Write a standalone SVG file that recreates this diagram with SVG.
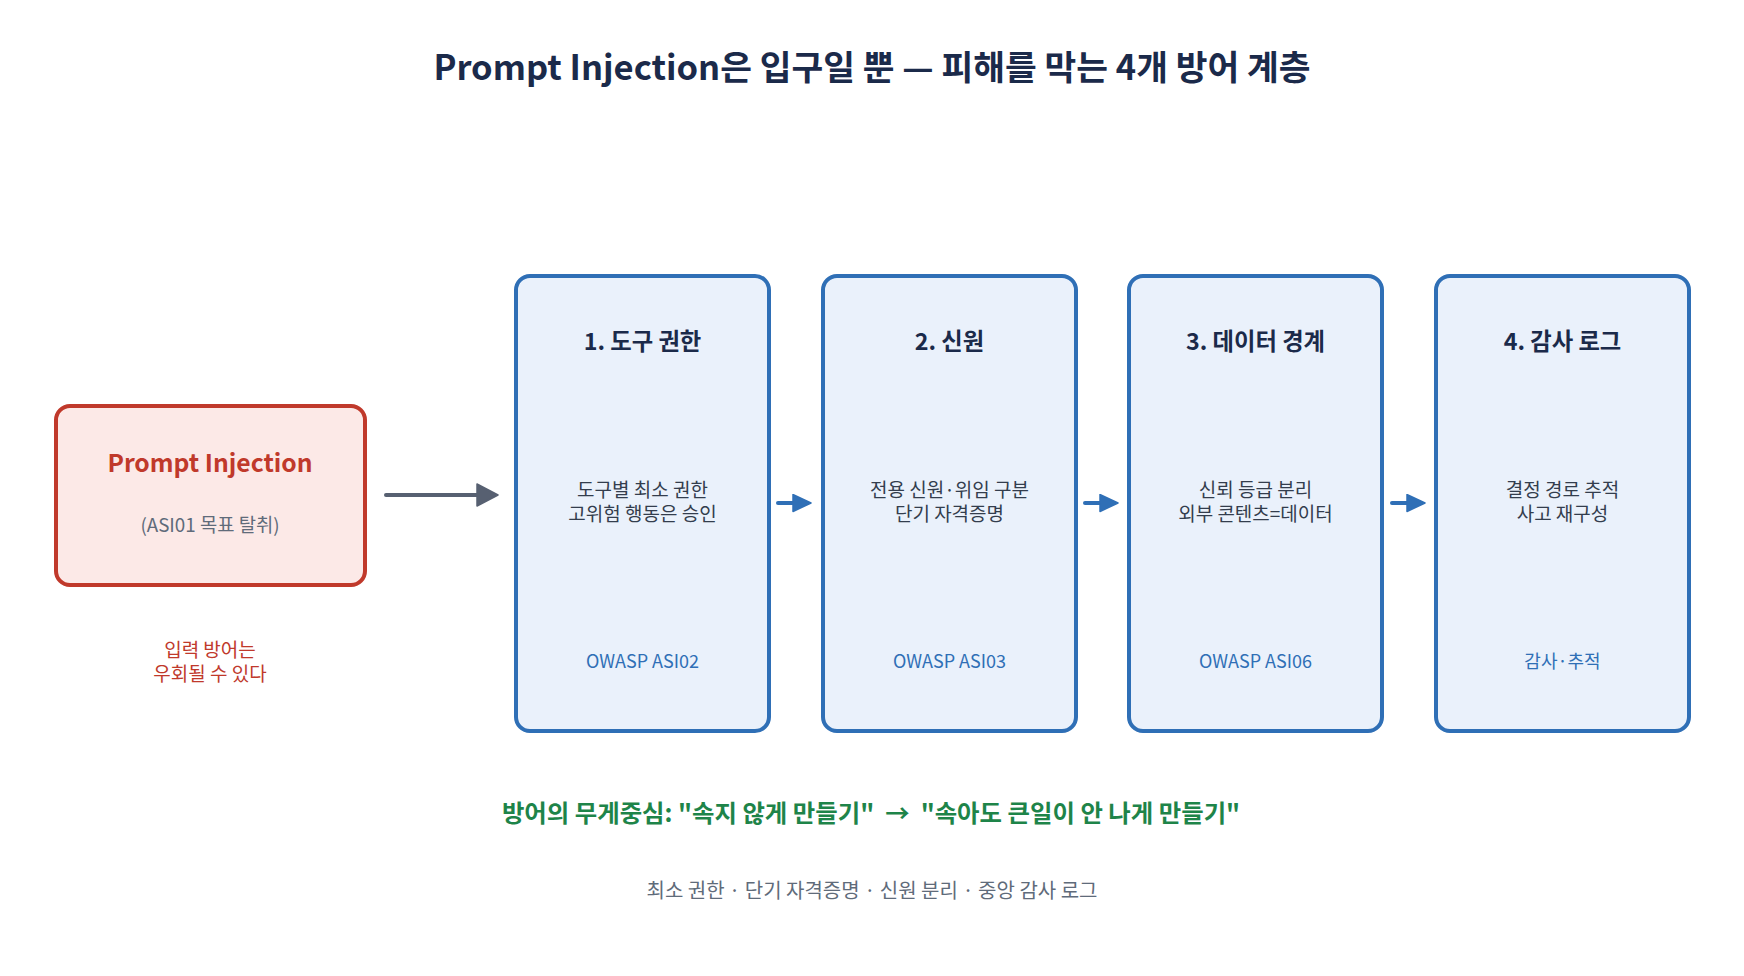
<svg xmlns="http://www.w3.org/2000/svg" width="1744" height="976" viewBox="0 0 1744 976">
<defs>
<style>
text{font-family:"Noto Sans CJK KR","Noto Sans",sans-serif;text-anchor:middle}
.title{font-size:34.5px;font-weight:700;fill:#1b2a4a}
.layer rect{fill:#eaf1fb;stroke:#2f6fb6;stroke-width:4}
.lt{font-size:23.3px;font-weight:700;fill:#1b2a4a}
.body{font-size:19px;fill:#333d4d}
.tag{font-size:18px;fill:#2f6fb6}
.green{font-size:24.4px;font-weight:700;fill:#1e8449}
.foot{font-size:20px;fill:#5f6b7a}
.red{fill:#c0392b}
</style>
<marker id="ga" markerUnits="userSpaceOnUse" markerWidth="24" markerHeight="24" refX="9" refY="12" orient="auto"><path d="M1,1 L22,12 L1,23 Z" fill="#576071" stroke="#576071" stroke-width="1.5" stroke-linejoin="round"/></marker>
<marker id="ba" markerUnits="userSpaceOnUse" markerWidth="21" markerHeight="20" refX="8" refY="9.5" orient="auto"><path d="M1,1 L19,9.5 L1,18 Z" fill="#2f6fb6" stroke="#2f6fb6" stroke-width="1.5" stroke-linejoin="round"/></marker>
</defs>
<rect width="1744" height="976" fill="#ffffff"/>
<text class="title" x="872" y="80">Prompt Injection은 입구일 뿐 — 피해를 막는 4개 방어 계층</text>

<g id="connectors" stroke-linecap="round">
<line x1="386" y1="495" x2="485" y2="495" stroke="#576071" stroke-width="4" marker-end="url(#ga)"/>
<line x1="778" y1="503" x2="800" y2="503" stroke="#2f6fb6" stroke-width="4" marker-end="url(#ba)"/>
<line x1="1085" y1="503" x2="1107" y2="503" stroke="#2f6fb6" stroke-width="4" marker-end="url(#ba)"/>
<line x1="1392" y1="503" x2="1414" y2="503" stroke="#2f6fb6" stroke-width="4" marker-end="url(#ba)"/>
</g>

<g id="prompt-injection">
<rect x="56" y="406" width="309" height="179" rx="14" fill="#fce9e7" stroke="#c0392b" stroke-width="4"/>
<text x="210" y="472" font-size="24.7" font-weight="700" class="red">Prompt Injection</text>
<text x="210" y="532" font-size="18.8" fill="#5f6b7a">(ASI01 목표 탈취)</text>
</g>
<g id="note">
<text x="210" y="657" font-size="19" class="red">입력 방어는</text>
<text x="210" y="681" font-size="19" class="red">우회될 수 있다</text>
</g>

<g id="layer1" class="layer">
<rect x="516" y="276" width="253" height="455" rx="14"/>
<text class="lt" x="642.5" y="350">1. 도구 권한</text>
<text class="body" x="642.5" y="497">도구별 최소 권한</text>
<text class="body" x="642.5" y="521">고위험 행동은 승인</text>
<text class="tag" x="642.5" y="668">OWASP ASI02</text>
</g>
<g id="layer2" class="layer">
<rect x="823" y="276" width="253" height="455" rx="14"/>
<text class="lt" x="949.5" y="350">2. 신원</text>
<text class="body" x="949.5" y="497">전용 신원·위임 구분</text>
<text class="body" x="949.5" y="521">단기 자격증명</text>
<text class="tag" x="949.5" y="668">OWASP ASI03</text>
</g>
<g id="layer3" class="layer">
<rect x="1129" y="276" width="253" height="455" rx="14"/>
<text class="lt" x="1255.5" y="350">3. 데이터 경계</text>
<text class="body" x="1255.5" y="497">신뢰 등급 분리</text>
<text class="body" x="1255.5" y="521">외부 콘텐츠=데이터</text>
<text class="tag" x="1255.5" y="668">OWASP ASI06</text>
</g>
<g id="layer4" class="layer">
<rect x="1436" y="276" width="253" height="455" rx="14"/>
<text class="lt" x="1562.5" y="350">4. 감사 로그</text>
<text class="body" x="1562.5" y="497">결정 경로 추적</text>
<text class="body" x="1562.5" y="521">사고 재구성</text>
<text class="tag" x="1562.5" y="668">감사·추적</text>
</g>

<text class="green" x="871" y="822" xml:space="preserve">방어의 무게중심: "속지 않게 만들기"  →  "속아도 큰일이 안 나게 만들기"</text>
<text class="foot" x="872" y="898" xml:space="preserve">최소 권한 · 단기 자격증명 · 신원 분리 · 중앙 감사 로그</text>
</svg>
